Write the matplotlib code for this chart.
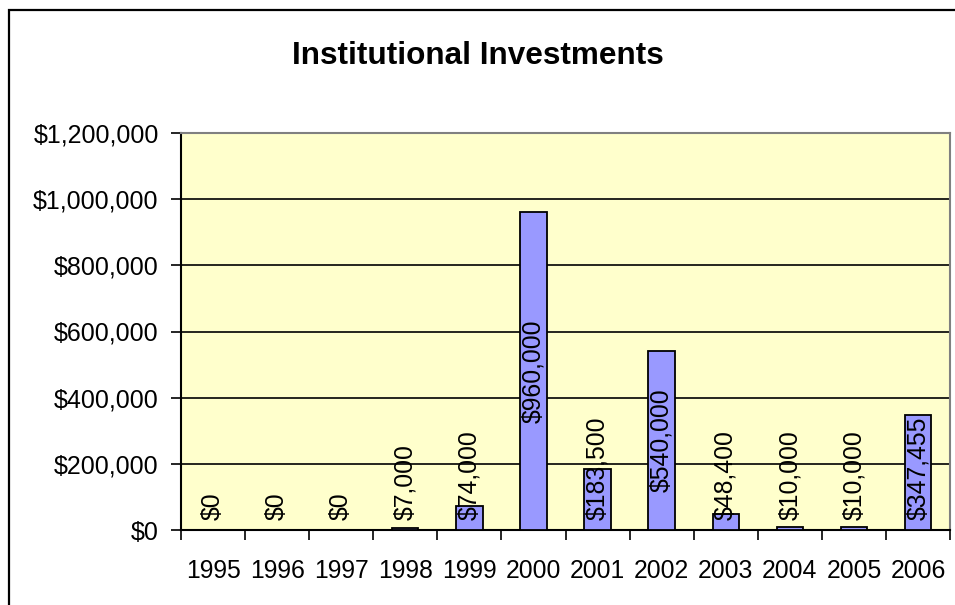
import matplotlib.pyplot as plt
from matplotlib.patches import Rectangle
from matplotlib.ticker import FuncFormatter

# --- data ---
years = ['1995', '1996', '1997', '1998', '1999', '2000',
         '2001', '2002', '2003', '2004', '2005', '2006']
amounts = [0, 0, 0, 7000, 74000, 960000, 183500, 540000, 48400, 10000, 10000, 347455]

plt.rcParams['font.family'] = ['Liberation Sans', 'DejaVu Sans']

fig = plt.figure(figsize=(9.55, 6.05), dpi=100)
ax = fig.add_axes([181 / 955, 1 - 530 / 605, (950 - 181) / 955, (530 - 133) / 605])

# outer chart border (cut off at right and bottom like the original)
fig.patches.append(Rectangle((9 / 955, -0.1), 1.2, 1 - 10 / 605 + 0.1,
                             transform=fig.transFigure, fill=False,
                             edgecolor='black', linewidth=1.6))

ax.set_facecolor('#FFFFCC')
x = list(range(len(years)))
ax.bar(x, amounts, width=0.41, color='#9999FF', edgecolor='black', linewidth=1.3, zorder=3)

ax.set_xlim(-0.5, len(years) - 0.5)
ax.set_ylim(0, 1200000)
ax.set_yticks(range(0, 1200001, 200000))
ax.yaxis.set_major_formatter(FuncFormatter(lambda v, p: f'${v:,.0f}'))
ax.grid(axis='y', color='black', linewidth=1.2, zorder=1)

# category ticks on the boundaries, labels centred
ax.set_xticks([i - 0.5 for i in range(len(years) + 1)])
ax.set_xticklabels([])
ax.set_xticks(x, minor=True)
ax.set_xticklabels(years, minor=True)
ax.tick_params(axis='x', which='major', length=7, width=1.2, direction='out')
ax.tick_params(axis='x', which='minor', length=0, pad=21, labelsize=17.8)
ax.tick_params(axis='y', length=7, width=1.2, direction='out', pad=9, labelsize=18)

for s in ['top', 'right']:
    ax.spines[s].set_color('#808080')
    ax.spines[s].set_linewidth(1.5)
for s in ['left', 'bottom']:
    ax.spines[s].set_color('black')
    ax.spines[s].set_linewidth(1.5)

# value labels: centred on bar, pushed up so they stay above the axis
fig.canvas.draw()
renderer = fig.canvas.get_renderer()
floor = 30000
for i, v in enumerate(amounts):
    t = ax.text(i, v / 2, f'${v:,.0f}', rotation=90, ha='center', va='center',
                fontsize=17.8, zorder=4)
    bb = t.get_window_extent(renderer).transformed(ax.transData.inverted())
    if bb.y0 < floor:
        t.set_y(floor)
        t.set_va('bottom')

fig.text(0.5, 1 - 56 / 605, 'Institutional Investments', ha='center', va='center',
         fontsize=22.7, fontweight='bold')

fig.savefig('out.png', dpi=100)
